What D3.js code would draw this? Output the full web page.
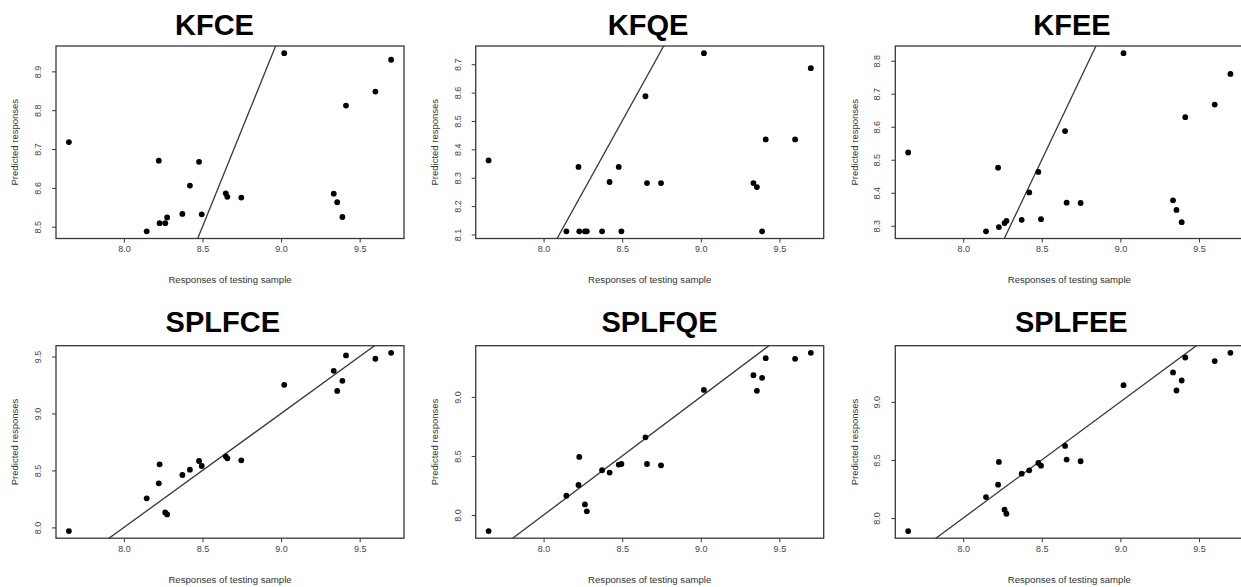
<!DOCTYPE html>
<html>
<head>
<meta charset="utf-8">
<script src="https://cdn.jsdelivr.net/npm/d3@7"></script>
<style>
body { margin: 0; background: #fff; }
text { font-family: "Liberation Sans", Arial, Helvetica, sans-serif; }
</style>
</head>
<body>
<svg id="chart" width="1241" height="587"></svg>
<script>
// Responses of the testing sample (same x for all six panels)
var xTest = [7.65, 8.145, 8.222, 8.227, 8.263, 8.275, 8.372, 8.42, 8.478, 8.495,
             8.648, 8.658, 8.747, 9.02, 9.335, 9.357, 9.39, 9.413, 9.6, 9.70];

// Predicted responses, one array per method, in the order of xTest
var kfce   = [8.718, 8.488, 8.670, 8.509, 8.509, 8.524, 8.533, 8.606, 8.667, 8.532,
              8.586, 8.577, 8.575, 8.947, 8.585, 8.563, 8.525, 8.812, 8.848, 8.930];
var kfqe   = [8.361, 8.111, 8.338, 8.111, 8.111, 8.111, 8.111, 8.285, 8.338, 8.111,
              8.587, 8.281, 8.281, 8.739, 8.281, 8.267, 8.111, 8.435, 8.435, 8.686];
var kfee   = [8.522, 8.283, 8.476, 8.296, 8.308, 8.315, 8.318, 8.401, 8.463, 8.320,
              8.587, 8.370, 8.369, 8.823, 8.377, 8.348, 8.311, 8.629, 8.667, 8.760];
var splfce = [7.968, 8.255, 8.387, 8.554, 8.132, 8.114, 8.460, 8.507, 8.583, 8.539,
              8.624, 8.606, 8.589, 9.251, 9.374, 9.198, 9.286, 9.509, 9.480, 9.532];
var splfqe = [7.864, 8.164, 8.254, 8.492, 8.090, 8.031, 8.379, 8.359, 8.427, 8.432,
              8.658, 8.432, 8.421, 9.059, 9.184, 9.051, 9.161, 9.328, 9.322, 9.373];
var splfee = [7.888, 8.181, 8.287, 8.483, 8.072, 8.037, 8.382, 8.411, 8.474, 8.451,
              8.621, 8.503, 8.489, 9.144, 9.253, 9.098, 9.184, 9.382, 9.351, 9.422];

var panelNames  = ["KFCE", "KFQE", "KFEE", "SPLFCE", "SPLFQE", "SPLFEE"];
var panelValues = [kfce, kfqe, kfee, splfce, splfqe, splfee];

var xTicks = [8.0, 8.5, 9.0, 9.5];
var yTicks = [
  [8.5, 8.6, 8.7, 8.8, 8.9],
  [8.1, 8.2, 8.3, 8.4, 8.5, 8.6, 8.7],
  [8.3, 8.4, 8.5, 8.6, 8.7, 8.8],
  [8.0, 8.5, 9.0, 9.5],
  [8.0, 8.5, 9.0],
  [8.0, 8.5, 9.0]
];

var xLabel = "Responses of testing sample";
var yLabel = "Predicted responses";

///////////////////////////////////////////////////////////////////////////////
// layout

var W = 348, H = 192.5;
var colLeft = [56, 475.7, 895.3];
var rowTop = [46, 345.7];
var titleBase = [35, 331.7];
var titleShift = [-15.5, -1.7, 2.7, -7.2, 9.8, 2];

var ink = "#383838";
var fmt = d3.format(".1f");

// R style axis range: data extent plus 4% at each end
var padded = function (vals) {
  var e = d3.extent(vals), p = (e[1] - e[0]) * 0.04;
  return [e[0] - p, e[1] + p];
};

var svg = d3.select("#chart");

panelNames.forEach(function (name, i) {
  var col = i % 3, row = Math.floor(i / 3);
  var left = colLeft[col], top = rowTop[row];
  var vals = panelValues[i];

  var x = d3.scaleLinear().domain(padded(xTest)).range([0, W]);
  var y = d3.scaleLinear().domain(padded(vals)).range([H, 0]);

  var g = svg.append("g").attr("transform", "translate(" + left + "," + top + ")");

  svg.append("text")
    .attr("x", left + W / 2 + titleShift[i])
    .attr("y", titleBase[row])
    .attr("text-anchor", "middle")
    .style("font-size", "29px")
    .style("font-weight", "bold")
    .attr("fill", "#000")
    .text(name);

  var clipId = "clip" + i;
  g.append("clipPath").attr("id", clipId)
    .append("rect").attr("width", W).attr("height", H);

  // x axis
  var xa = g.append("g").attr("transform", "translate(0," + H + ")")
    .call(d3.axisBottom(x).tickValues(xTicks).tickSize(4).tickPadding(3).tickFormat(fmt));
  // y axis, labels turned like R's las=0
  var ya = g.append("g")
    .call(d3.axisLeft(y).tickValues(yTicks[i]).tickSize(4).tickFormat(fmt));
  ya.selectAll(".tick text")
    .attr("transform", "rotate(-90)")
    .attr("x", 0)
    .attr("y", -18)
    .attr("dy", "0.35em")
    .attr("text-anchor", "middle");

  [xa, ya].forEach(function (a) {
    a.select(".domain").remove();
    a.selectAll(".tick line").attr("stroke", ink).attr("stroke-width", 1);
    a.selectAll(".tick text").attr("fill", "#444")
      .style("font-size", "9px")
      .style("font-family", "'Liberation Sans', Arial, sans-serif");
  });

  // y = x reference line
  var lo = Math.min(x.domain()[0], y.domain()[0]) - 1;
  var hi = Math.max(x.domain()[1], y.domain()[1]) + 1;
  g.append("path")
    .attr("clip-path", "url(#" + clipId + ")")
    .attr("d", d3.line().x(function (d) { return x(d); }).y(function (d) { return y(d); })([lo, hi]))
    .attr("fill", "none")
    .attr("stroke", ink)
    .attr("stroke-width", 1.3);

  g.selectAll("circle.pt")
    .data(xTest)
    .enter().append("circle")
    .attr("class", "pt")
    .attr("cx", function (d) { return x(d); })
    .attr("cy", function (d, j) { return y(vals[j]); })
    .attr("r", 2.9)
    .attr("fill", "#000");

  g.append("rect")
    .attr("width", W).attr("height", H)
    .attr("fill", "none")
    .attr("stroke", ink)
    .attr("stroke-width", 1.3);

  g.append("text")
    .attr("x", W / 2)
    .attr("y", H + 41.5)
    .attr("dy", "0.35em")
    .attr("text-anchor", "middle")
    .attr("fill", "#333")
    .style("font-size", "9.6px")
    .text(xLabel);

  g.append("text")
    .attr("transform", "translate(-41," + (H / 2) + ") rotate(-90)")
    .attr("dy", "0.35em")
    .attr("text-anchor", "middle")
    .attr("fill", "#333")
    .style("font-size", "9.5px")
    .text(yLabel);
});
</script>
</body>
</html>
